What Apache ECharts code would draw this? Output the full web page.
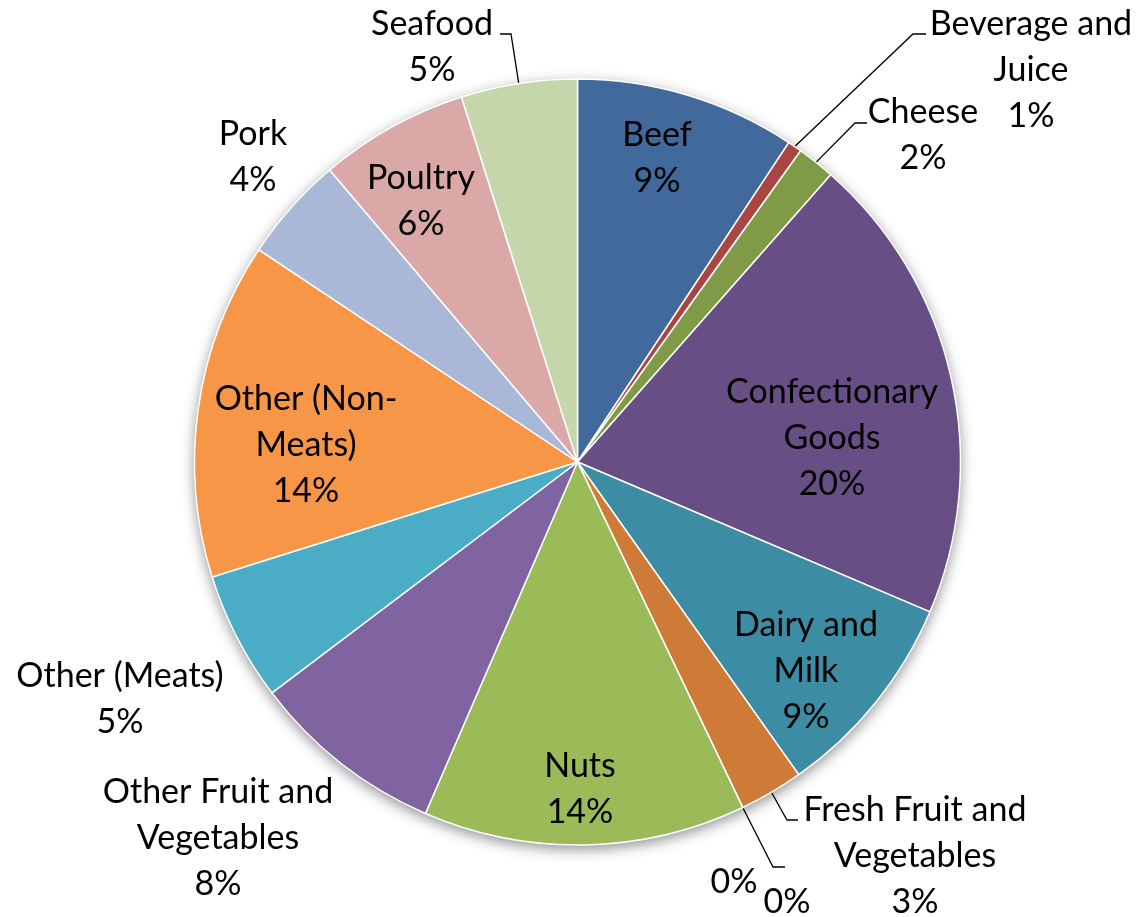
<!DOCTYPE html>
<html>
<head>
<meta charset="utf-8">
<script src="https://cdn.jsdelivr.net/npm/echarts@6/dist/echarts.min.js"></script>
<style>
  html, body { margin: 0; padding: 0; background: #fff; }
  #chart { width: 1139px; height: 917px; }
</style>
</head>
<body>
<div id="chart"></div>
<script>
// Spending categories (share of total, %), clockwise from 12 o'clock
const categories = [
  'Beef', 'Beverage and Juice', 'Cheese', 'Confectionary Goods', 'Dairy and Milk',
  'Fresh Fruit and Vegetables', '', '', 'Nuts', 'Other Fruit and Vegetables',
  'Other (Meats)', 'Other (Non-Meats)', 'Pork', 'Poultry', 'Seafood'
];
const shares = [9.3, 0.6, 1.6, 19.9, 8.8, 2.7, 0, 0, 13.6, 8.2, 5.45, 14.2, 4.45, 6.3, 4.9];

// How each category name wraps in its label
const labelLines = [
  ['Beef'], ['Beverage and', 'Juice'], ['Cheese'], ['Confectionary', 'Goods'], ['Dairy and', 'Milk'],
  ['Fresh Fruit and', 'Vegetables'], [], [], ['Nuts'], ['Other Fruit and', 'Vegetables'],
  ['Other (Meats)'], ['Other (Non-', 'Meats)'], ['Pork'], ['Poultry'], ['Seafood']
];

const sliceColors = [
  '#41699B', '#AA4542', '#7F9B48', '#674F86', '#3C8CA3', '#CF7B38', '#4F81BD', '#C0504D',
  '#9BBB59', '#8064A2', '#4BACC6', '#F79646', '#A9B8D7', '#D9A8A7', '#C5D6AA'
];

// Pie geometry
const CX = 577.5, CY = 462, R = 383;

// Label anchor (block centre) and, for called-out labels, the elbow and end of the leader
const labelSpots = [
  { x: 657, y: 158 },
  { x: 1031, y: 70, lead: [[913, 34], [926, 34]] },
  { x: 923, y: 135, lead: [[855, 123], [867, 123]] },
  { x: 832, y: 438 },
  { x: 806, y: 671 },
  { x: 915, y: 856, lead: [[787, 820], [798, 820]] },
  { x: 734, y: 882 },
  { x: 787, y: 902, lead: [[773, 867], [785, 867]] },
  { x: 580, y: 789 },
  { x: 218, y: 838 },
  { x: 120, y: 699 },
  { x: 306, y: 445 },
  { x: 253, y: 157 },
  { x: 421, y: 201 },
  { x: 432, y: 47, lead: [[511, 34], [500, 34]] }
];

// Mid angle of every slice (degrees clockwise from top), from the shares
const total = shares.reduce((a, b) => a + b, 0);
const midAngles = [];
let acc = 0;
shares.forEach(v => {
  midAngles.push((acc + v / 2) / total * 360);
  acc += v;
});

function rimPoint(deg) {
  const a = deg * Math.PI / 180;
  return [CX + R * Math.sin(a), CY - R * Math.cos(a)];
}

const data = categories.map((name, i) => {
  const called = !!labelSpots[i].lead;
  return {
    name: name,
    value: shares[i],
    itemStyle: { color: sliceColors[i] },
    label: { position: called ? 'outside' : 'inside' },
    labelLine: { show: called }
  };
});

const chart = echarts.init(document.getElementById('chart'), null, { renderer: 'canvas' });

chart.setOption({
  backgroundColor: '#ffffff',
  animation: false,
  series: [
    {
      // backdrop disc carrying the soft drop shadow under the pie
      type: 'pie',
      silent: true,
      center: [CX, CY],
      radius: R,
      z: 1,
      label: { show: false },
      labelLine: { show: false },
      itemStyle: {
        color: '#ffffff',
        shadowBlur: 14,
        shadowOffsetY: 4,
        shadowColor: 'rgba(0,0,0,0.45)'
      },
      data: [{ value: 1 }]
    },
    {
      type: 'pie',
      center: [CX, CY],
      radius: R,
      startAngle: 90,
      clockwise: true,
      z: 2,
      avoidLabelOverlap: false,
      minShowLabelAngle: -1,
      itemStyle: { borderColor: '#ffffff', borderWidth: 1.5 },
      label: {
        show: true,
        color: '#000000',
        fontFamily: 'Lato',
        fontSize: 34,
        lineHeight: 46,
        align: 'center',
        formatter: p => labelLines[p.dataIndex].concat([Math.round(p.value) + '%']).join('\n')
      },
      labelLine: {
        lineStyle: { color: '#000000', width: 1.3 }
      },
      labelLayout: p => {
        const spot = labelSpots[p.dataIndex];
        const out = { x: spot.x, y: spot.y, align: 'center', verticalAlign: 'middle' };
        if (spot.lead) {
          out.labelLinePoints = [rimPoint(midAngles[p.dataIndex])].concat(spot.lead);
        }
        return out;
      },
      data: data
    }
  ]
});
</script>
</body>
</html>
